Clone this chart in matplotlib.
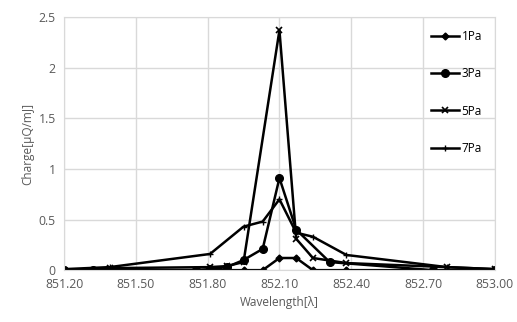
import matplotlib.pyplot as plt
import numpy as np

# wavelength [A] and charge [uQ/mJ] for each pressure
wl_1pa = [851.20, 851.32, 851.75, 851.81, 851.88, 851.95, 852.03, 852.10, 852.17, 852.24, 852.38, 852.74, 853.00]
q_1pa = [0.0, 0.0, 0.0, 0.0, 0.0, 0.0, 0.0, 0.12, 0.12, 0.0, 0.0, 0.0, 0.0]

wl_3pa = [851.20, 851.32, 851.75, 851.81, 851.88, 851.95, 852.03, 852.10, 852.17, 852.31, 852.74, 853.00]
q_3pa = [0.0, 0.0, 0.0, 0.01, 0.03, 0.10, 0.21, 0.91, 0.40, 0.08, 0.0, 0.0]

wl_5pa = [851.20, 851.39, 851.81, 851.88, 851.95, 852.10, 852.17, 852.24, 852.38, 852.80, 853.00]
q_5pa = [0.0, 0.02, 0.03, 0.04, 0.08, 2.37, 0.31, 0.12, 0.07, 0.03, 0.01]

wl_7pa = [851.20, 851.39, 851.81, 851.95, 852.03, 852.10, 852.17, 852.24, 852.38, 852.80, 853.00]
q_7pa = [0.01, 0.03, 0.16, 0.43, 0.48, 0.70, 0.37, 0.33, 0.15, 0.03, 0.01]

xticks = [851.20, 851.50, 851.80, 852.10, 852.40, 852.70, 853.00]
yticks = [0, 0.5, 1, 1.5, 2, 2.5]

plt.rcParams['font.family'] = ['Open Sans', 'DejaVu Sans']

fig = plt.figure(figsize=(5.17, 3.22), dpi=100)
ax = fig.add_axes([0.124, 0.161, 0.833, 0.786])

ax.plot(wl_1pa, q_1pa, color='black', lw=1.8, marker='D', ms=3.5, label='1Pa')
ax.plot(wl_3pa, q_3pa, color='black', lw=1.8, marker='o', ms=5.5, label='3Pa')
ax.plot(wl_5pa, q_5pa, color='black', lw=1.8, marker='x', ms=5, mew=1.2, label='5Pa')
ax.plot(wl_7pa, q_7pa, color='black', lw=1.8, marker='+', ms=5, mew=1.0, label='7Pa')

ax.set_xlim(851.20, 853.00)
ax.set_ylim(0, 2.5)
ax.set_xticks(xticks)
ax.set_xticklabels(['%.2f' % t for t in xticks])
ax.set_yticks(yticks)
ax.set_yticklabels(['0', '0.5', '1', '1.5', '2', '2.5'])
ax.tick_params(length=0, labelsize=8.8, labelcolor='#595959', pad=6)

ax.grid(True, color='#d9d9d9', lw=1)
ax.set_axisbelow(True)
for s in ax.spines.values():
    s.set_color('#d9d9d9')

ax.set_xlabel('Wavelength[λ]', fontsize=8.5, color='#595959', labelpad=3)
ax.set_ylabel('Charge[μQ/mJ]', fontsize=8.5, color='#595959', labelpad=3)

ax.legend(loc='upper right', frameon=False, fontsize=8.5, labelspacing=2.05,
          handlelength=2.4, handletextpad=0.2, bbox_to_anchor=(0.995, 0.99))

fig.savefig('out.png', dpi=100)
